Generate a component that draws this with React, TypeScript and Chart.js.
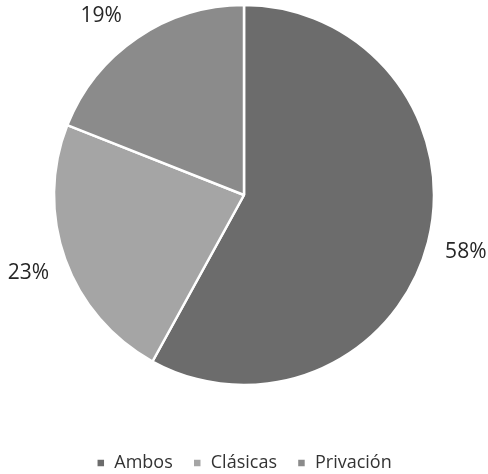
import React, { useEffect, useRef } from "react";
import { Chart, registerables } from "chart.js";

Chart.register(...registerables);

const categories = ["Ambos", "Clásicas", "Privación"];
const values = [58, 23, 19];
const labelsText = ["58%", "23%", "19%"];
const colors = ["#6c6c6c", "#a5a5a5", "#8b8b8b"];

const FONT = "'Open Sans', 'DejaVu Sans', sans-serif";

const outsideLabels = {
  id: "outsideLabels",
  afterDatasetsDraw(chart: any) {
    const ctx = chart.ctx;
    const meta = chart.getDatasetMeta(0);
    ctx.save();
    ctx.font = `21px ${FONT}`;
    ctx.fillStyle = "#262626";
    ctx.textAlign = "center";
    ctx.textBaseline = "middle";
    meta.data.forEach((arc: any, i: number) => {
      const { x, y, startAngle, endAngle, outerRadius } = arc.getProps(
        ["x", "y", "startAngle", "endAngle", "outerRadius"],
        true
      );
      const mid = (startAngle + endAngle) / 2;
      const d = outerRadius + 39;
      let lx = x + Math.cos(mid) * d;
      let ly = y + Math.sin(mid) * d;
      const minY = 16;
      if (ly < minY) {
        ly = minY;
        const dy = y - ly;
        const sign = Math.cos(mid) < 0 ? -1 : 1;
        lx = x + sign * Math.sqrt(Math.max(d * d - dy * dy, 0));
      }
      ctx.fillText(labelsText[i], lx, ly);
    });
    ctx.restore();
  },
};

export default function App() {
  const ref = useRef<HTMLCanvasElement | null>(null);
  useEffect(() => {
    if (!ref.current) return;
    const chart = new Chart(ref.current, {
      type: "pie",
      data: {
        labels: categories,
        datasets: [
          {
            data: values,
            backgroundColor: colors,
            borderColor: "#ffffff",
            borderWidth: 2.5,
            radius: 190,
          },
        ],
      },
      options: {
        animation: false,
        responsive: true,
        maintainAspectRatio: false,
        layout: { padding: { top: 0, left: 55, right: 55, bottom: 0 } },
        plugins: {
          tooltip: { enabled: false },
          legend: {
            position: "bottom",
            maxHeight: 84,
            title: {
              display: true,
              text: " ",
              font: { size: 10, lineHeight: 1 },
              padding: { top: 34, bottom: 0 },
            },
            labels: {
              boxWidth: 9,
              boxHeight: 9,
              padding: 20,
              color: "#333333",
              font: { size: 18, family: FONT },
            },
          },
        },
      },
      plugins: [outsideLabels],
    });
    return () => chart.destroy();
  }, []);
  return (
    <div style={{ position: "fixed", left: 0, top: 0, width: 488, height: 474, background: "#fff" }}>
      <canvas ref={ref} />
    </div>
  );
}
